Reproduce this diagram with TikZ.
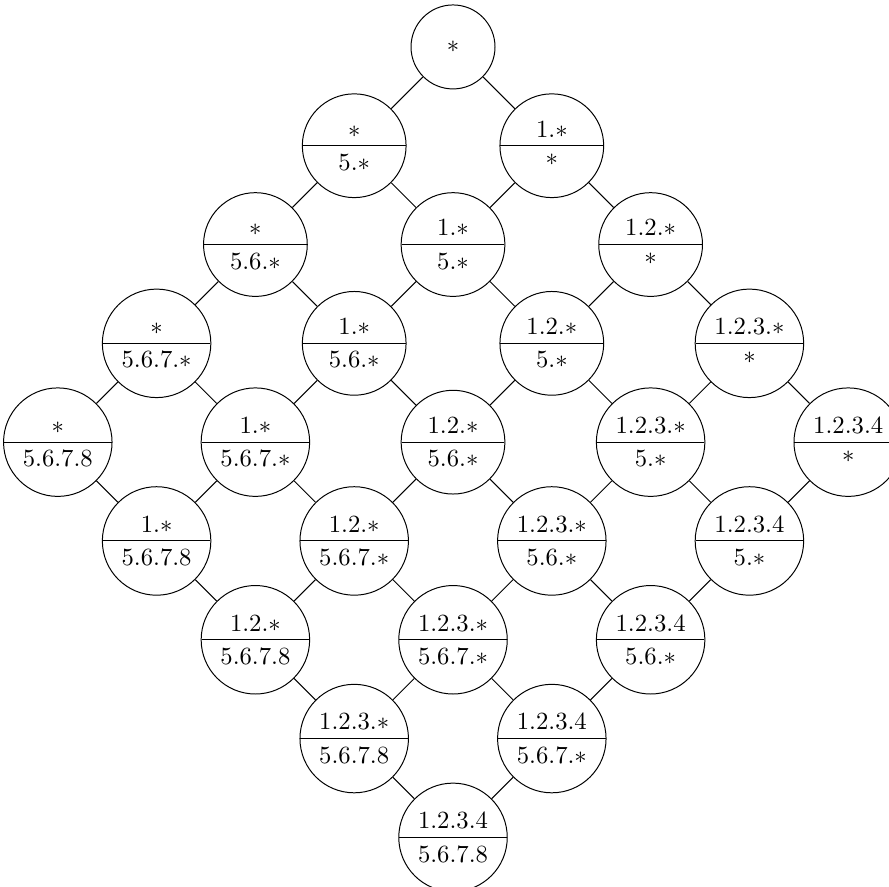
\documentclass[tikz,border=0pt]{standalone}
\usepackage{tikz}
\usetikzlibrary{shapes.multipart}

\begin{document}
\begin{tikzpicture}[x=40pt,y=40pt,
  cell/.style={circle split,draw,minimum size=42pt},
  apex/.style={circle,draw,minimum size=34pt}
]
\useasboundingbox (-183.4pt,19pt) rectangle (176.5pt,-339.7pt);
% ---- lattice of prefix pairs
\foreach \i/\a in {0/*, 1/1.*, 2/1.2.*, 3/1.2.3.*, 4/1.2.3.4}{
  \foreach \j/\b in {0/*, 1/5.*, 2/5.6.*, 3/5.6.7.*, 4/5.6.7.8}{
    \pgfmathtruncatemacro\s{\i+\j}
    \ifnum\s=0
      \node[apex] (n\i\j) at (\i-\j,-\i-\j) {$*$};
    \else
      \node[cell] (n\i\j) at (\i-\j,-\i-\j) {$\a$ \nodepart{lower} $\b$};
    \fi
  }
}
% edges
\foreach \i in {0,...,4}{
  \foreach \j [evaluate=\j as \k using int(\j+1)] in {0,...,3}{
    \draw (n\i\j) -- (n\i\k);
    \draw (n\j\i) -- (n\k\i);
  }
}
\end{tikzpicture}
\end{document}
